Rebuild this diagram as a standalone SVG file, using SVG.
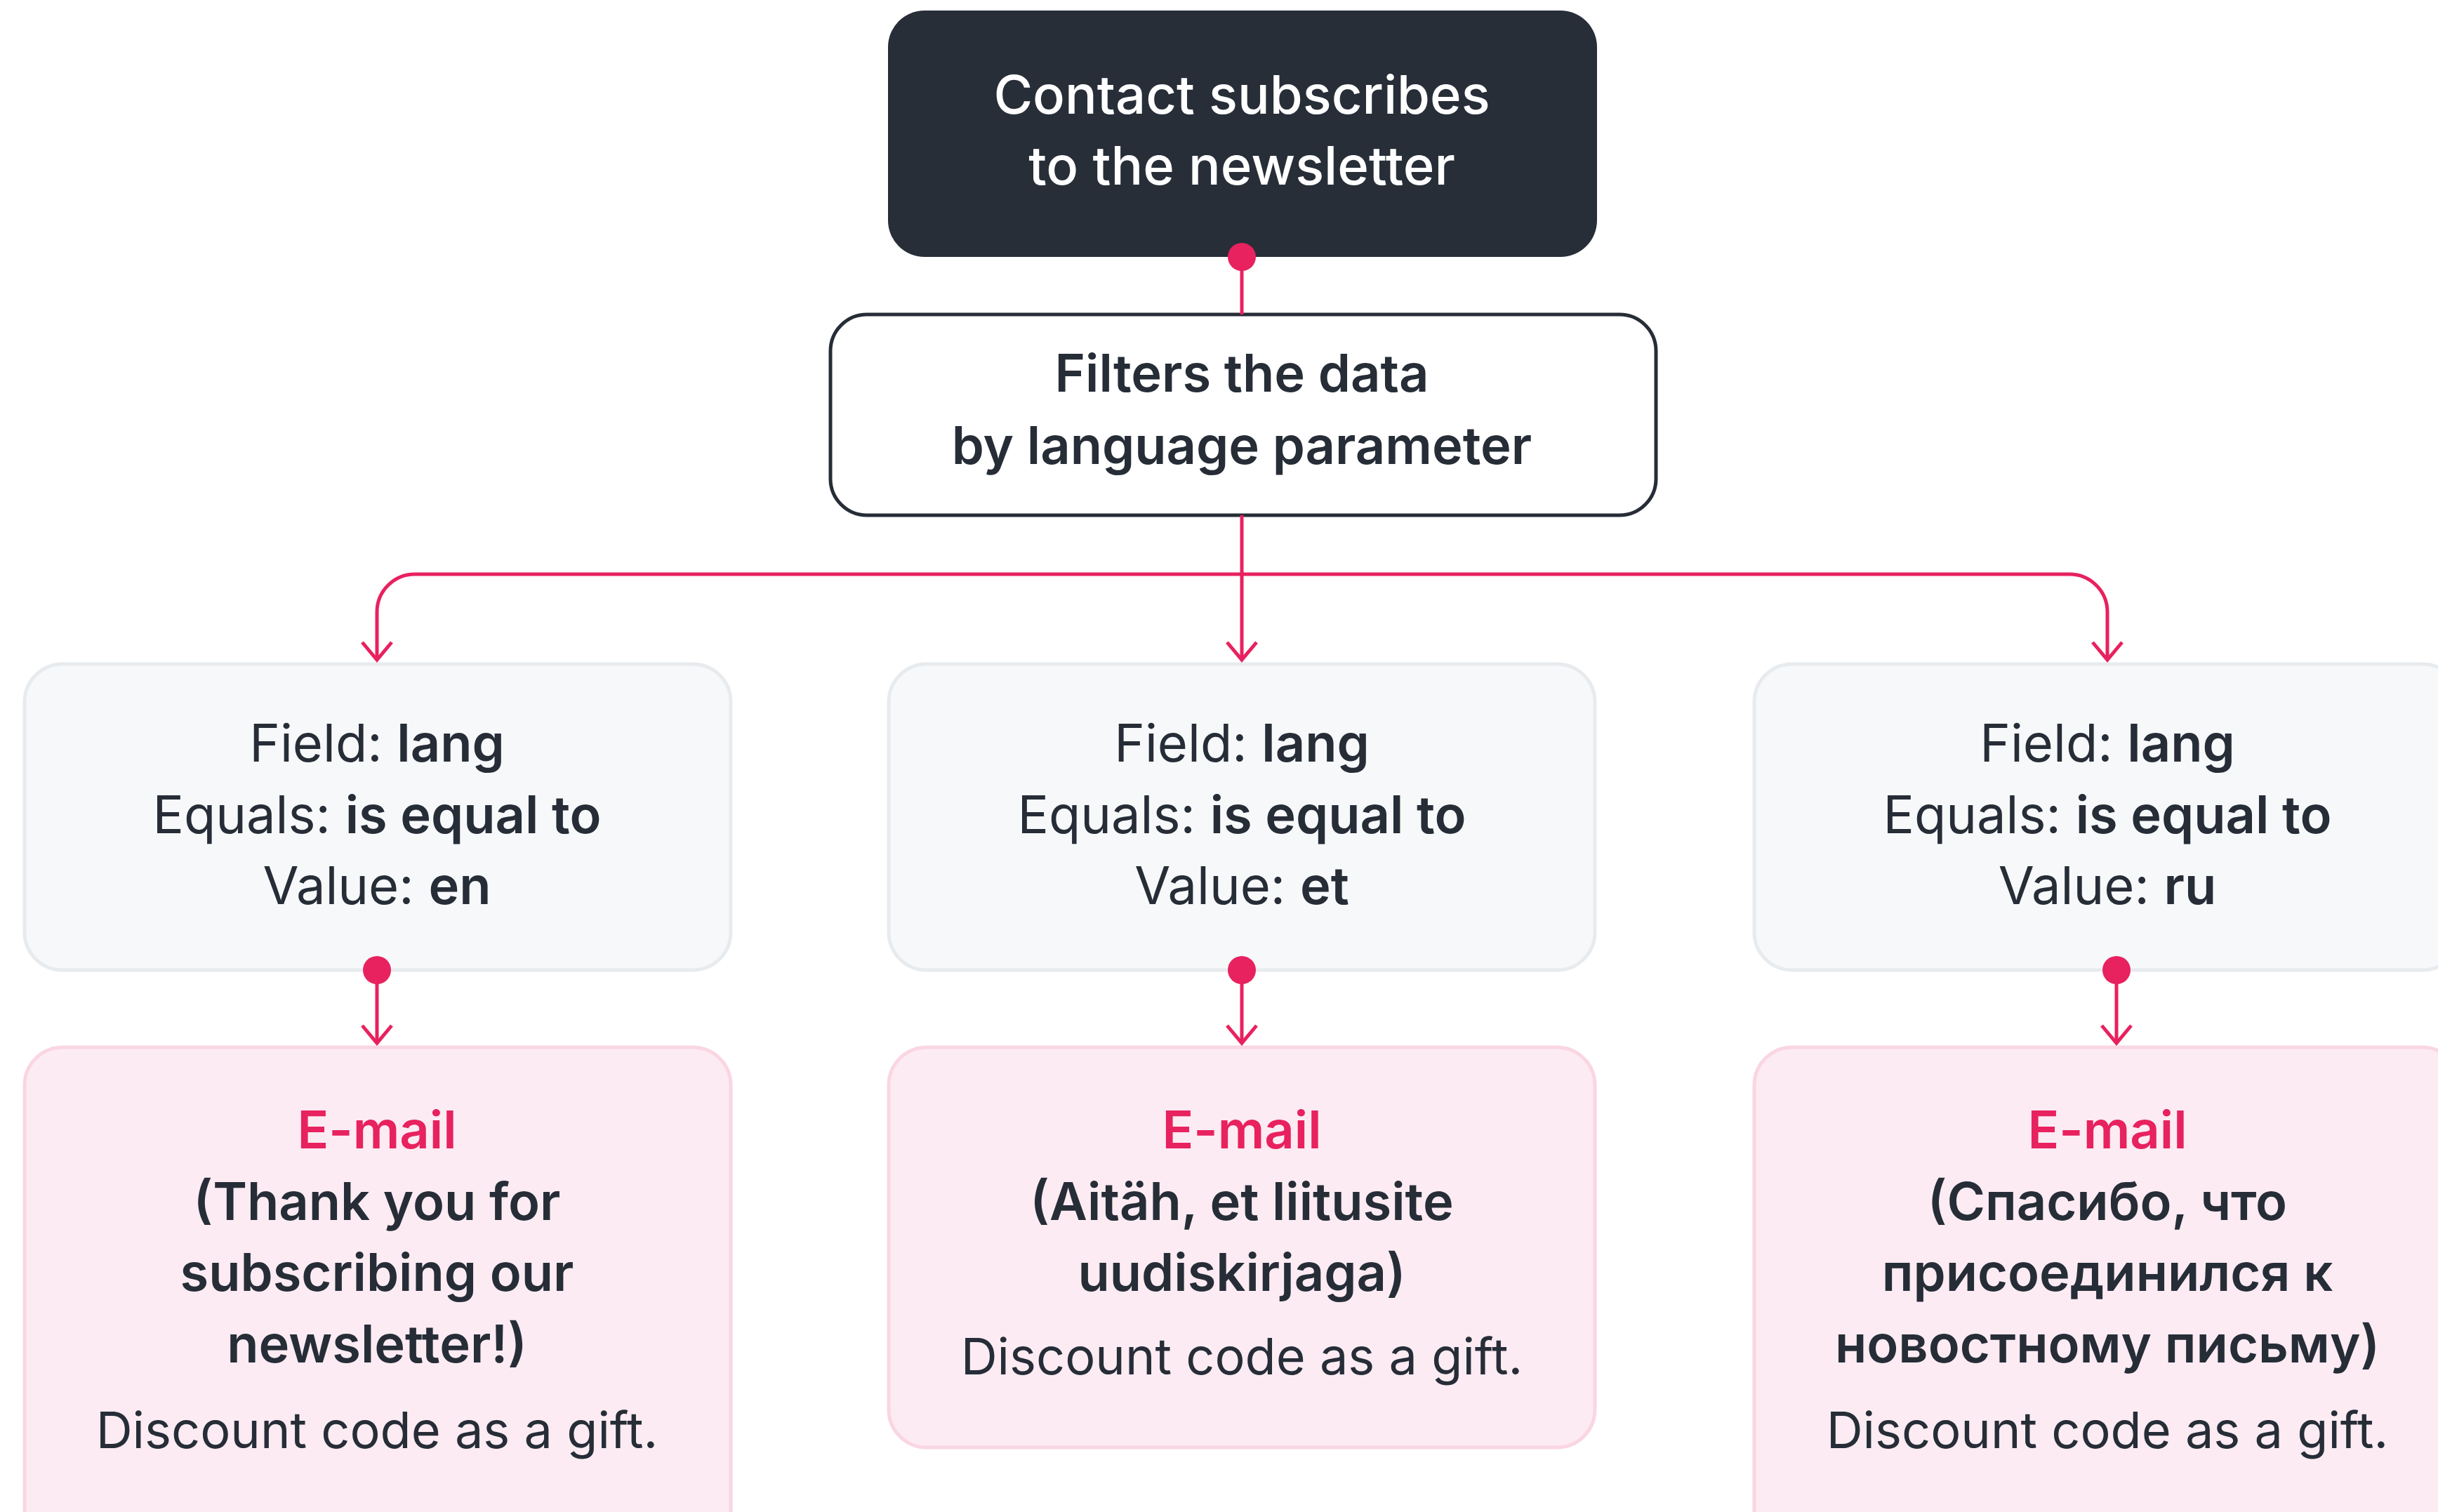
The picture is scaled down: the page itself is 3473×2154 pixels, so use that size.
<svg xmlns="http://www.w3.org/2000/svg" width="3473" height="2154" viewBox="0 0 3473 2154">
  <style>
    text { font-family: Inter, "Noto Sans", "Liberation Sans", sans-serif; font-size: 74px; text-anchor: middle; fill: #262D37; }
    .start { fill: #272E38; }
    .start-text { fill: #FFFFFF; font-weight: 500; font-size: 76px; }
    .filter { fill: #FFFFFF; stroke: #262D37; stroke-width: 5; }
    .filter-text { font-weight: 600; }
    .cond { fill: #F6F8FA; stroke: #E8EBEE; stroke-width: 5; }
    .mail { fill: #FCEBF3; stroke: #FAD6E2; stroke-width: 5; }
    .b { font-weight: 600; }
    .r { font-weight: 400; }
    .gift { font-weight: 400; font-size: 72px; }
    .title { fill: #E8215F; font-weight: 600; }
    .wire { fill: none; stroke: #E8215F; stroke-width: 5; }
    .dot { fill: #E8215F; }
  </style>
  <defs>
    <marker id="arrow" markerUnits="userSpaceOnUse" viewBox="-30 -26 34 52" markerWidth="34" markerHeight="52" refX="0" refY="0" orient="auto" overflow="visible">
      <path d="M-25,-21 L0,0 L-25,21" fill="none" stroke="#E8215F" stroke-width="5"/>
    </marker>
  </defs>

  <rect width="3473" height="2154" fill="#FFFFFF"/>

  <!-- start node -->
  <g id="start">
    <rect class="start" x="1265" y="15" width="1010" height="351" rx="52"/>
    <text class="start-text" x="1769" y="162">Contact subscribes</text>
    <text class="start-text" x="1769" y="263">to the newsletter</text>
  </g>

  <!-- language filter -->
  <g id="filter">
    <rect class="filter" x="1183" y="448" width="1176" height="286" rx="52"/>
    <text class="filter-text" x="1769" y="558">Filters the data</text>
    <text class="filter-text" x="1769" y="661">by language parameter</text>
  </g>

  <!-- condition nodes -->
  <g id="cond-en">
    <rect class="cond" x="35" y="946" width="1006" height="436" rx="54"/>
    <text x="537" y="1085"><tspan class="r">Field: </tspan><tspan class="b">lang</tspan></text>
    <text x="537" y="1187"><tspan class="r">Equals: </tspan><tspan class="b">is equal to</tspan></text>
    <text x="537" y="1288"><tspan class="r">Value: </tspan><tspan class="b">en</tspan></text>
  </g>
  <g id="cond-et">
    <rect class="cond" x="1266" y="946" width="1006" height="436" rx="54"/>
    <text x="1769" y="1085"><tspan class="r">Field: </tspan><tspan class="b">lang</tspan></text>
    <text x="1769" y="1187"><tspan class="r">Equals: </tspan><tspan class="b">is equal to</tspan></text>
    <text x="1769" y="1288"><tspan class="r">Value: </tspan><tspan class="b">et</tspan></text>
  </g>
  <g id="cond-ru">
    <rect class="cond" x="2499" y="946" width="1006" height="436" rx="54"/>
    <text x="3002" y="1085"><tspan class="r">Field: </tspan><tspan class="b">lang</tspan></text>
    <text x="3002" y="1187"><tspan class="r">Equals: </tspan><tspan class="b">is equal to</tspan></text>
    <text x="3002" y="1288"><tspan class="r">Value: </tspan><tspan class="b">ru</tspan></text>
  </g>

  <!-- e-mail nodes -->
  <g id="mail-en">
    <rect class="mail" x="35" y="1492" width="1006" height="720" rx="54"/>
    <text class="title" x="537" y="1636">E-mail</text>
    <text class="b" x="537" y="1738">(Thank you for</text>
    <text class="b" x="537" y="1839">subscribing our</text>
    <text class="b" x="537" y="1941">newsletter!)</text>
    <text class="gift" x="537" y="2063">Discount code as a gift.</text>
  </g>
  <g id="mail-et">
    <rect class="mail" x="1266" y="1492" width="1006" height="570" rx="54"/>
    <text class="title" x="1769" y="1636">E-mail</text>
    <text class="b" x="1769" y="1738">(Aitäh, et liitusite</text>
    <text class="b" x="1769" y="1839">uudiskirjaga)</text>
    <text class="gift" x="1769" y="1958">Discount code as a gift.</text>
  </g>
  <g id="mail-ru">
    <rect class="mail" x="2499" y="1492" width="1006" height="720" rx="54"/>
    <text class="title" x="3002" y="1636">E-mail</text>
    <text class="b" x="3002" y="1738">(Спасибо, что</text>
    <text class="b" x="3002" y="1839">присоединился к</text>
    <text class="b" x="3002" y="1941">новостному письму)</text>
    <text class="gift" x="3002" y="2063">Discount code as a gift.</text>
  </g>

  <!-- connectors, drawn over the node borders -->
  <g id="connectors">
    <path class="wire" d="M1769,366 V448"/>
    <path class="wire" d="M1769,734 V940" marker-end="url(#arrow)"/>
    <path class="wire" d="M1769,818 H591 A54,54 0 0 0 537,872 V940" marker-end="url(#arrow)"/>
    <path class="wire" d="M1769,818 H2948 A54,54 0 0 1 3002,872 V940" marker-end="url(#arrow)"/>
    <path class="wire" d="M537,1382 V1486" marker-end="url(#arrow)"/>
    <path class="wire" d="M1769,1382 V1486" marker-end="url(#arrow)"/>
    <path class="wire" d="M3015,1382 V1486" marker-end="url(#arrow)"/>
    <circle class="dot" cx="1769" cy="366" r="20"/>
    <circle class="dot" cx="537" cy="1382" r="20"/>
    <circle class="dot" cx="1769" cy="1382" r="20"/>
    <circle class="dot" cx="3015" cy="1382" r="20"/>
  </g>
</svg>
